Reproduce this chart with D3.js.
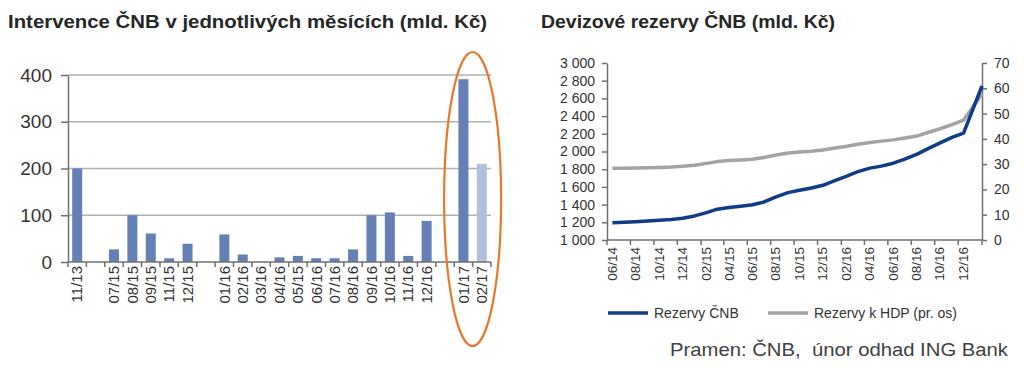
<!DOCTYPE html>
<html><head><meta charset="utf-8">
<script src="https://cdn.jsdelivr.net/npm/d3@7"></script>
<style>html,body{margin:0;padding:0;background:#fff;}svg{display:block;font-family:"Liberation Sans",Arial,sans-serif;}</style>
</head><body>
<svg id="c" width="1024" height="368"></svg>
<script>
// ---------- Data: left chart (monthly interventions, bn CZK) ----------
const interventionLabels = ["11/13","","07/15","08/15","09/15","11/15","12/15","","01/16","02/16","03/16","04/16","05/15","06/16","07/16","08/16","09/16","10/16","11/16","12/16","","01/17","02/17"];
const interventionValues = [200,null,27,100,61,8,39,null,59,16,0,10,13,8,8,27,100,106,13,88,null,391,210];
const interventionEstimate = [false,false,false,false,false,false,false,false,false,false,false,false,false,false,false,false,false,false,false,false,false,false,true];
const leftTicks = [0,100,200,300,400];

// ---------- Data: right chart (FX reserves) ----------
const reserveDates = ["2014-06-15","2014-07-15","2014-08-15","2014-09-15","2014-10-15","2014-11-15","2014-12-15",
 "2015-01-15","2015-02-15","2015-03-15","2015-04-15","2015-05-15","2015-06-15","2015-07-15","2015-08-15","2015-09-15","2015-10-15","2015-11-15","2015-12-15",
 "2016-01-15","2016-02-15","2016-03-15","2016-04-15","2016-05-15","2016-06-15","2016-07-15","2016-08-15","2016-09-15","2016-10-15","2016-11-15","2016-12-15",
 "2017-02-01"];
const reservesCNB = [1196,1200,1206,1214,1222,1232,1245,1272,1310,1348,1368,1382,1398,1430,1488,1535,1562,1588,1618,1672,1722,1772,1812,1835,1868,1915,1968,2035,2098,2160,2208,2740];
const reservesToGDP = [28.4,28.4,28.5,28.6,28.7,28.9,29.2,29.6,30.3,31.0,31.4,31.6,31.9,32.6,33.6,34.4,34.8,35.1,35.6,36.4,37.1,37.9,38.6,39.1,39.6,40.3,41.1,42.6,44.0,45.6,47.4,57.8];
const reserveLeftTicks = [1000,1200,1400,1600,1800,2000,2200,2400,2600,2800,3000];
const reserveRightTicks = [0,10,20,30,40,50,60,70];
const legendNames = ["Rezervy ČNB","Rezervy k HDP (pr. os)"];

const titleLeft = "Intervence ČNB v jednotlivých měsících (mld. Kč)";
const titleRight = "Devizové rezervy ČNB (mld. Kč)";
const sourceText = "Pramen: ČNB,  únor odhad ING Bank";

const svg = d3.select("#c");
const axisCol = "#707070";
const textCol = "#333";

// ---------- Titles ----------
svg.append("text").attr("x",8).attr("y",28).attr("font-size",18).attr("font-weight","bold")
  .attr("fill","#262626").attr("textLength",479).attr("lengthAdjust","spacingAndGlyphs").text(titleLeft);
svg.append("text").attr("x",541).attr("y",28).attr("font-size",18).attr("font-weight","bold")
  .attr("fill","#262626").attr("textLength",294).attr("lengthAdjust","spacingAndGlyphs").text(titleRight);

// ---------- Left chart ----------
const xL = d3.scaleBand().domain(d3.range(interventionLabels.length)).range([68,491]).paddingInner(0.456).paddingOuter(0.228);
const yL = d3.scaleLinear().domain([0,400]).range([262,75]);
const gL = svg.append("g");

gL.selectAll("line.grid").data(leftTicks.filter(d=>d>0)).join("line")
  .attr("x1",68).attr("x2",491).attr("y1",d=>yL(d)).attr("y2",d=>yL(d))
  .attr("stroke","#b0b0b0").attr("stroke-width",1.5);

gL.selectAll("rect.bar").data(interventionValues.map((v,i)=>({v,i})).filter(d=>d.v!==null && d.v>0)).join("rect")
  .attr("x",d=>xL(d.i)).attr("width",xL.bandwidth())
  .attr("y",d=>yL(d.v)).attr("height",d=>yL(0)-yL(d.v))
  .attr("fill",d=>interventionEstimate[d.i]?"#b3c0d9":"#6580b5");

const yAxisL = gL.append("g").attr("transform","translate(68,0)")
  .call(d3.axisLeft(yL).tickValues(leftTicks).tickSize(7).tickSizeOuter(0).tickPadding(9));
yAxisL.select(".domain").attr("stroke",axisCol).attr("stroke-width",1.5);
yAxisL.selectAll(".tick line").attr("stroke",axisCol).attr("stroke-width",1.5);
yAxisL.selectAll(".tick text").attr("font-size",19).attr("fill",textCol).attr("font-family","Liberation Sans, Arial, sans-serif");

// bottom axis
const step = xL.step();
const boundaries = d3.range(interventionLabels.length+1).map(i=> xL.range()[0] + i*step);
gL.append("line").attr("x1",68).attr("x2",491).attr("y1",yL(0)).attr("y2",yL(0)).attr("stroke",axisCol).attr("stroke-width",1.5);
gL.selectAll("line.xt").data(boundaries).join("line")
  .attr("x1",d=>d).attr("x2",d=>d).attr("y1",yL(0)).attr("y2",yL(0)+5)
  .attr("stroke",axisCol).attr("stroke-width",1.5);
gL.selectAll("text.xl").data(interventionLabels.map((l,i)=>({l,i}))).join("text")
  .attr("transform",d=>`translate(${xL(d.i)+xL.bandwidth()/2},266) rotate(-90)`)
  .attr("text-anchor","end").attr("dy","0.35em").attr("font-size",15).attr("fill",textCol).text(d=>d.l);

// orange ellipse highlight around 2017 bars
const iA = interventionLabels.indexOf("01/17"), iB = interventionLabels.indexOf("02/17");
const ecx = (xL(iA)+xL(iB)+xL.bandwidth())/2;
gL.append("ellipse").attr("cx",ecx).attr("cy",199).attr("rx",28.5).attr("ry",147)
  .attr("fill","none").attr("stroke","#e8782a").attr("stroke-width",2.2);

// ---------- Right chart ----------
const parse = d3.timeParse("%Y-%m-%d");
const dates = reserveDates.map(parse);
const xR = d3.scaleTime().domain([new Date(2014,5,1), new Date(2017,1,1)]).range([607,982]);
const yRL = d3.scaleLinear().domain([1000,3000]).range([240,63]);
const yRR = d3.scaleLinear().domain([0,70]).range([240,63]);
const gR = svg.append("g");
const fmt = d3.formatLocale({decimal:",",thousands:"\u00a0",grouping:[3],currency:["",""]}).format(",");

const axL = gR.append("g").attr("transform","translate(607,0)")
  .call(d3.axisLeft(yRL).tickValues(reserveLeftTicks).tickFormat(fmt).tickSize(5).tickSizeOuter(0).tickPadding(7));
const axR = gR.append("g").attr("transform","translate(982,0)")
  .call(d3.axisRight(yRR).tickValues(reserveRightTicks).tickSize(5).tickSizeOuter(0).tickPadding(7));
[axL,axR].forEach(a=>{
  a.select(".domain").attr("stroke",axisCol).attr("stroke-width",1.5);
  a.selectAll(".tick line").attr("stroke",axisCol).attr("stroke-width",1.5);
  a.selectAll(".tick text").attr("font-size",14).attr("fill",textCol).attr("font-family","Liberation Sans, Arial, sans-serif");
});

const xTicks = d3.timeMonth.range(new Date(2014,5,1), new Date(2017,1,2), 2);
gR.append("line").attr("x1",607).attr("x2",982).attr("y1",240).attr("y2",240).attr("stroke",axisCol).attr("stroke-width",1.5);
gR.selectAll("line.xt").data(xTicks).join("line")
  .attr("x1",d=>xR(d)).attr("x2",d=>xR(d)).attr("y1",240).attr("y2",245)
  .attr("stroke",axisCol).attr("stroke-width",1.5);
const tf = d3.timeFormat("%m/%y");
gR.selectAll("text.xl").data(xTicks.slice(0,-1)).join("text")
  .attr("transform",d=>`translate(${xR(d)+5},247) rotate(-90)`)
  .attr("text-anchor","end").attr("dy","0.35em").attr("font-size",13.5).attr("fill",textCol).text(d=>tf(d));

const lineL = d3.line().x((d,i)=>xR(dates[i])).y(d=>yRL(d));
const lineR = d3.line().x((d,i)=>xR(dates[i])).y(d=>yRR(d));
gR.append("path").datum(reservesToGDP).attr("d",lineR).attr("fill","none").attr("stroke","#a3a3a3").attr("stroke-width",3.5).attr("stroke-linejoin","round");
gR.append("path").datum(reservesCNB).attr("d",lineL).attr("fill","none").attr("stroke","#0f3c87").attr("stroke-width",3.5).attr("stroke-linejoin","round");

// legend
const legCols = ["#0f3c87","#a3a3a3"];
const legX = [608,768];
legendNames.forEach((n,i)=>{
  svg.append("line").attr("x1",legX[i]).attr("x2",legX[i]+40).attr("y1",313).attr("y2",313).attr("stroke",legCols[i]).attr("stroke-width",3.5);
  svg.append("text").attr("x",legX[i]+46).attr("y",318).attr("font-size",14).attr("fill",textCol).text(n);
});

svg.append("text").attr("x",670).attr("y",356).attr("font-size",19).attr("fill","#404040")
  .style("white-space","pre").attr("xml:space","preserve")
  .attr("textLength",338).attr("lengthAdjust","spacingAndGlyphs").text(sourceText);
</script>
</body></html>
